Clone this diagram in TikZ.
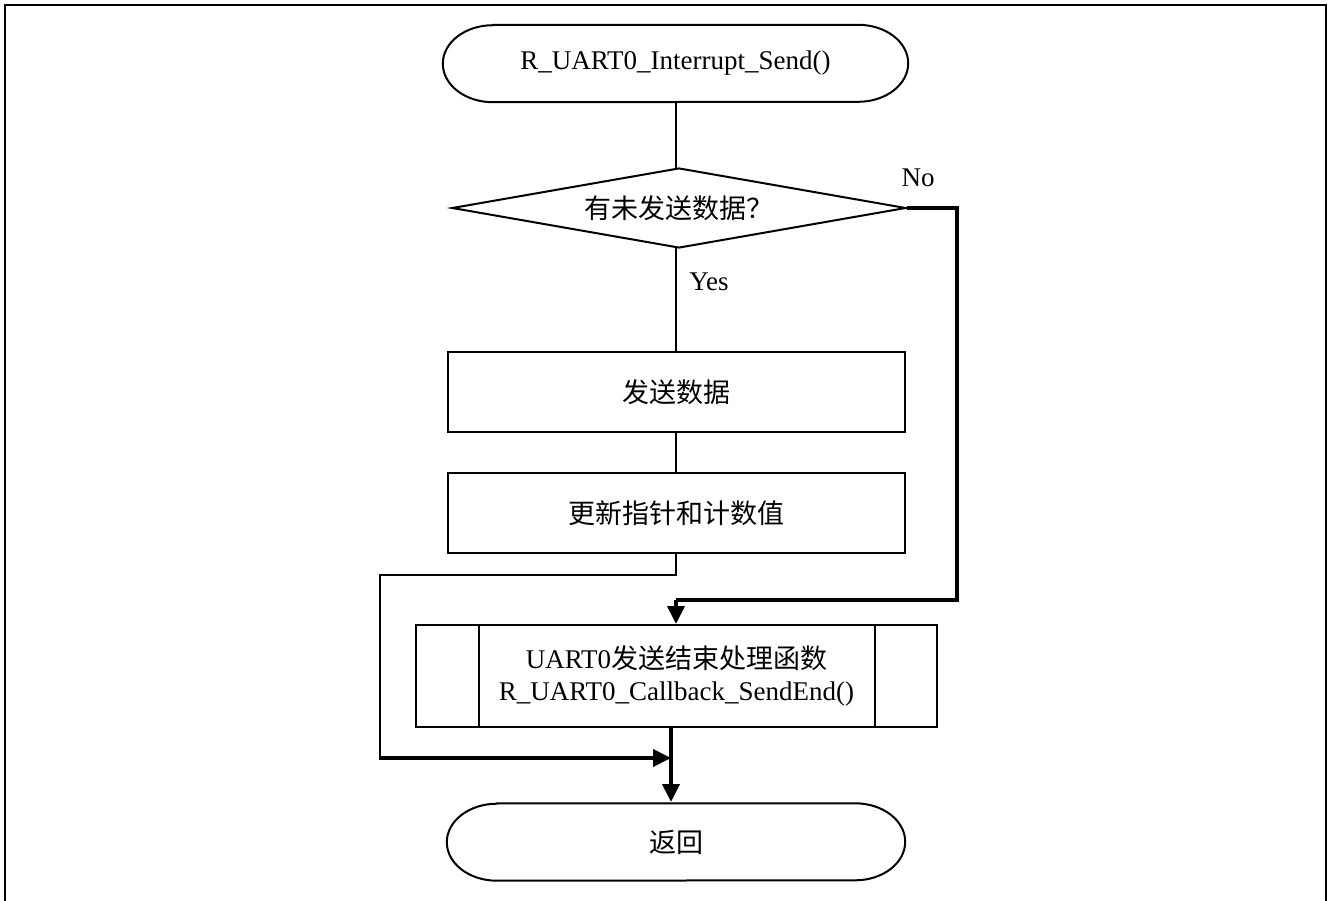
\documentclass[tikz,border=0pt]{standalone}
\usepackage{fontspec}
\setmainfont{Liberation Serif}
\newfontfamily\cjk{Noto Sans CJK SC}
\usetikzlibrary{arrows.meta,shapes.geometric}
\begin{document}
\begin{tikzpicture}[x=1pt,y=-1pt,
  every node/.style={font=\fontsize{27}{32}\selectfont},
  thinline/.style={line width=2pt},
  thickline/.style={line width=4pt},
  arr/.style={-{Triangle[length=18pt,width=17pt]}},
  procbox/.style={draw,line width=2pt,rectangle,minimum width=457pt,minimum height=80pt,inner sep=0pt},
  termnode/.style={inner sep=0pt,minimum width=#1,minimum height=77pt},
  decbox/.style={draw,line width=2pt,diamond,shape aspect=5.675,minimum width=454pt,minimum height=80pt,inner sep=0pt},
  subbox/.style={draw,line width=2pt,rectangle,minimum width=521pt,minimum height=102pt,inner sep=0pt,align=center,font=\fontsize{27}{32}\selectfont},
  lbl/.style={inner sep=0pt}
]
\useasboundingbox (0,0) rectangle (1331,900);
% frame
\draw[line width=2.5pt] (5,5) rectangle (1326,910);

% start terminal
\node[termnode=465pt] (start) at (675.5,63.5) {R\_UART0\_Interrupt\_Send()};
\draw[thinline] ([xshift=50pt]start.north west) -- ([xshift=-50pt]start.north east)
  arc[start angle=90,end angle=-90,x radius=50pt,y radius=38.5pt]
  -- ([xshift=50pt]start.south west)
  arc[start angle=270,end angle=90,x radius=50pt,y radius=38.5pt] -- cycle;

% decision
\node[decbox] (dec) at (679,208) {\cjk 有未发送数据？};
\node[lbl] (no) at (918,178) {No};
\node[lbl] (yes) at (709,282) {Yes};

% process boxes
\node[procbox] (b1) at (676.5,392) {\cjk 发送数据};
\node[procbox] (b2) at (676.5,513) {\cjk 更新指针和计数值};

% subroutine box
\node[subbox] (sub) at (676.5,676) {\strut UART0{\cjk 发送结束处理函数}\\ R\_UART0\_Callback\_SendEnd()};
\draw[thinline] ([xshift=64pt]sub.north west) -- ([xshift=64pt]sub.south west);
\draw[thinline] ([xshift=-63pt]sub.north east) -- ([xshift=-63pt]sub.south east);

% end terminal
\node[termnode=458pt] (end) at (676,842) {\cjk 返回};
\draw[thinline] ([xshift=50pt]end.north west) -- ([xshift=-50pt]end.north east)
  arc[start angle=90,end angle=-90,x radius=50pt,y radius=38.5pt]
  -- ([xshift=50pt]end.south west)
  arc[start angle=270,end angle=90,x radius=50pt,y radius=38.5pt] -- cycle;

% coordinates
\coordinate (nr) at (957,208);
\coordinate (nb) at (957,600);
\coordinate (nm) at (676,600);
\coordinate (lt) at (676,575);
\coordinate (ll) at (380,575);
\coordinate (lb) at (380,758);
\coordinate (j) at (671,758);
\coordinate (jt) at (671,727);
\coordinate (je) at (671,802);

% connectors
\draw[thinline] (start.south -| 676,0) -- (676,168);
\draw[thinline] (676,248) -- (b1.north -| 676,0);
\draw[thinline] (b1.south -| 676,0) -- (b2.north -| 676,0);
\draw[thickline,line join=miter] (dec.east) -- (nr) -- (nb) -- (nm);
\draw[thickline,arr] (nm) -- (sub.north -| nm);
\draw[thinline,line join=miter] (b2.south -| lt) -- (lt) -- (ll) -- (lb);
\draw[thickline,arr] ([xshift=-1pt]lb) -- (j);
\draw[thickline,arr] (jt) -- (je);
\end{tikzpicture}
\end{document}
